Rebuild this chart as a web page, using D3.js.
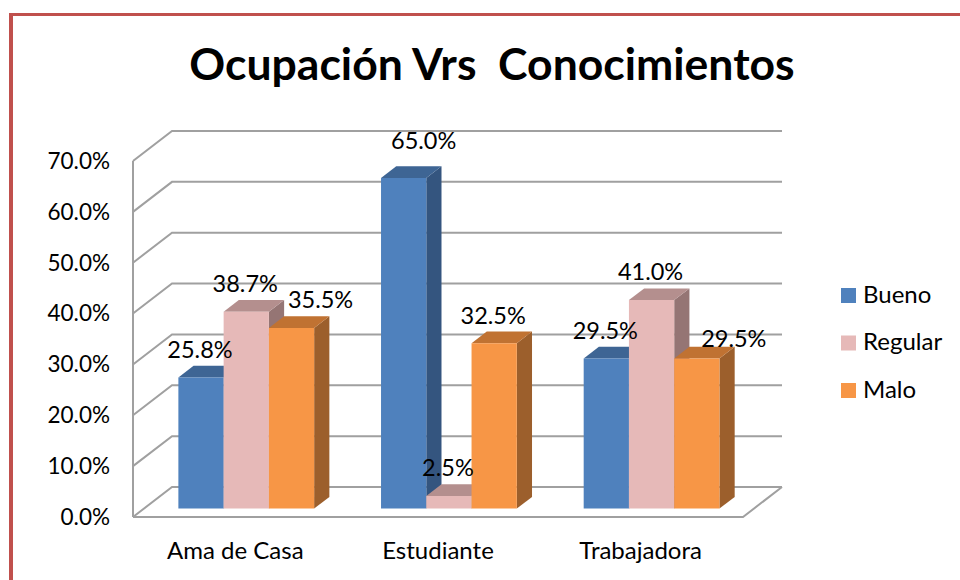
<!DOCTYPE html>
<html>
<head>
<meta charset="utf-8">
<script src="https://cdn.jsdelivr.net/npm/d3@7"></script>
<style>
  html, body { margin: 0; padding: 0; background: #fff; }
  svg { display: block; }
  text { font-family: Lato, "Open Sans", sans-serif; fill: #000; }
</style>
</head>
<body>
<svg id="chart" width="960" height="580"></svg>
<script>
// ---- data ----
const title = "Ocupación Vrs  Conocimientos";
const categories = ["Ama de Casa", "Estudiante", "Trabajadora"];
const seriesNames = ["Bueno", "Regular", "Malo"];
const bueno   = [0.258, 0.650, 0.295];
const regular = [0.387, 0.025, 0.410];
const malo    = [0.355, 0.325, 0.295];
const yTicks  = [0, 0.1, 0.2, 0.3, 0.4, 0.5, 0.6, 0.7];

// ---- styles / layout ----
const frontColors = ["#4F81BD", "#E6B9B8", "#F79646"];
const topColors   = ["#3E6594", "#B48F8E", "#C07232"];
const sideColors  = ["#34557F", "#957574", "#9C5F2C"];
// label nudges [dx, dy] per category/series (Excel's overlap avoidance)
const labelNudge = [
  [[0, 0], [0, 0], [30, 0]],
  [[21, -9], [0, 0], [0, 0]],
  [[0, 0], [0, 0], [38, 8]]
];

const DX = 39, DY = 30;      // depth projection of the 3D box
const Z0 = 0.28, Z1 = 0.67;  // bar depth range

const svg = d3.select("#chart");
const values = [bueno, regular, malo];

// border
svg.append("line").attr("x1", 11).attr("x2", 11).attr("y1", 13).attr("y2", 580)
  .attr("stroke", "#C0504D").attr("stroke-width", 4);
svg.append("line").attr("x1", 9).attr("x2", 960).attr("y1", 14.5).attr("y2", 14.5)
  .attr("stroke", "#C0504D").attr("stroke-width", 3);

// title
svg.append("text").attr("x", 492).attr("y", 80)
  .attr("text-anchor", "middle")
  .style("white-space", "pre")
  .style("font-weight", "bold").style("font-size", "44.5px")
  .text(title);

// scales
const x = d3.scaleBand().domain(categories).range([133, 743])
  .paddingInner(0.33).paddingOuter(0.17);
const xs = d3.scaleBand().domain(seriesNames).range([0, x.bandwidth()]);
const y = d3.scaleLinear().domain([0, 0.7]).range([517, 161]);

const P = (px, v, z) => [px + z * DX, y(v) - z * DY];
const xLeft = x.range()[0], xRight = x.range()[1];

// gridlines (back wall + left wall)
const grid = svg.append("g").attr("stroke", "#A0A0A0").attr("stroke-width", 2).attr("fill", "none");
yTicks.forEach(t => {
  const a = P(xLeft, t, 0), b = P(xLeft, t, 1), c = P(xRight, t, 1);
  grid.append("path").attr("d", d3.line()([a, b, c]));
});
// left wall front edge
grid.append("path").attr("d", d3.line()([P(xLeft, 0, 0), P(xLeft, 0.7, 0)]));
// floor front and right edges
grid.append("path").attr("d", d3.line()([P(xLeft, 0, 0), P(xRight, 0, 0), P(xRight, 0, 1)]));

// y axis labels
svg.append("g").selectAll("text").data(yTicks).join("text")
  .attr("x", 110).attr("y", d => y(d)).attr("dy", "0.35em")
  .attr("text-anchor", "end")
  .style("font-size", "22.5px")
  .text(d => d3.format(".1%")(d));

// category labels
svg.append("g").selectAll("text").data(categories).join("text")
  .attr("x", d => x(d) + x.bandwidth() / 2)
  .attr("y", 559)
  .attr("text-anchor", "middle")
  .style("font-size", "24px")
  .text(d => d);

// bars
const bars = svg.append("g");
const poly = pts => "M" + pts.map(p => p.join(",")).join("L") + "Z";
categories.forEach((cat, ci) => {
  seriesNames.forEach((s, si) => {
    const v = values[si][ci];
    const x0 = x(cat) + xs(s), x1 = x0 + xs.bandwidth();
    const g = bars.append("g");
    g.append("path").attr("fill", sideColors[si])
      .attr("d", poly([P(x1, 0, Z0), P(x1, v, Z0), P(x1, v, Z1), P(x1, 0, Z1)]));
    g.append("path").attr("fill", topColors[si])
      .attr("d", poly([P(x0, v, Z0), P(x1, v, Z0), P(x1, v, Z1), P(x0, v, Z1)]));
    g.append("path").attr("fill", frontColors[si])
      .attr("d", poly([P(x0, 0, Z0), P(x1, 0, Z0), P(x1, v, Z0), P(x0, v, Z0)]));
  });
});

// data labels
const labels = svg.append("g");
categories.forEach((cat, ci) => {
  seriesNames.forEach((s, si) => {
    const v = values[si][ci];
    const cx = x(cat) + xs(s) + xs.bandwidth() / 2;
    const front = P(cx, v, Z0), back = P(cx, v, Z1);
    const n = labelNudge[ci][si];
    labels.append("text")
      .attr("x", front[0] - 1 + n[0])
      .attr("y", back[1] - 8 + n[1])
      .attr("text-anchor", "middle")
      .style("font-size", "23.5px")
      .text(d3.format(".1%")(v));
  });
});

// legend
const legend = svg.append("g");
seriesNames.forEach((s, i) => {
  const ly = 288 + i * 47.5;
  legend.append("rect").attr("x", 841).attr("y", ly).attr("width", 15).attr("height", 15)
    .attr("fill", frontColors[i]);
  legend.append("text").attr("x", 863).attr("y", ly + 14.5)
    .style("font-size", "24px").text(s);
});
</script>
</body>
</html>
